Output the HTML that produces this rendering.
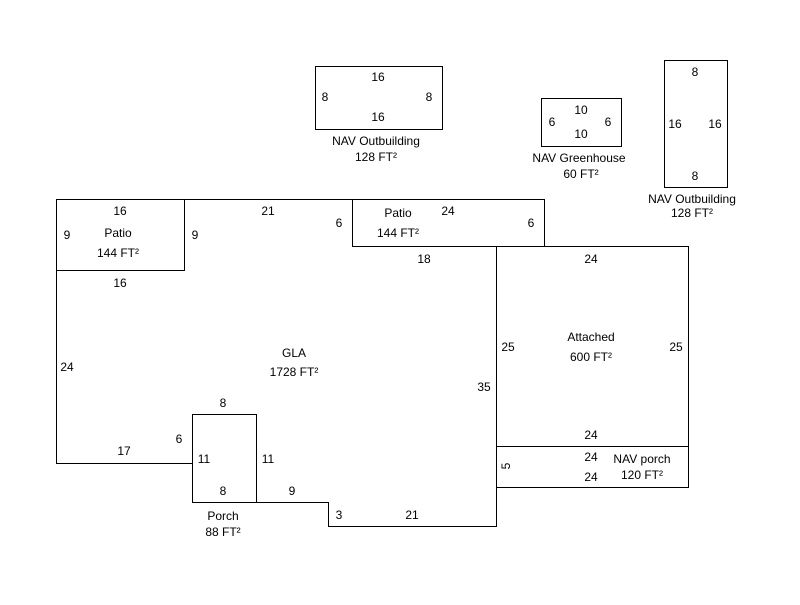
<!DOCTYPE html>
<html><head><meta charset="utf-8"><style>body{margin:0;background:#fff}svg text{font-family:"Liberation Sans",Arial,sans-serif;font-size:12px;fill:#000;text-anchor:middle;dominant-baseline:central}</style></head>
<body><svg width="800" height="600" xmlns="http://www.w3.org/2000/svg">
<g fill="none" stroke="#000" stroke-width="1">
<rect x="315.5" y="66.5" width="127" height="63"/>
<rect x="541.5" y="98.5" width="80" height="48"/>
<rect x="664.5" y="60.5" width="63" height="127"/>
<polygon points="56.5,199.5 352.5,199.5 352.5,246.5 496.5,246.5 496.5,526.5 328.5,526.5 328.5,502.5 192.5,502.5 192.5,463.5 56.5,463.5"/>
<rect x="56.5" y="199.5" width="128" height="71"/>
<rect x="352.5" y="199.5" width="192" height="47"/>
<rect x="192.5" y="414.5" width="64" height="88"/>
<rect x="496.5" y="246.5" width="192" height="200"/>
<rect x="496.5" y="446.5" width="192" height="41"/>
</g>
<text x="378" y="77">16</text><text x="325" y="97">8</text><text x="429" y="97">8</text><text x="378" y="117">16</text>
<text x="376" y="141">NAV Outbuilding</text><text x="376" y="157">128 FT²</text>
<text x="581" y="110">10</text><text x="552" y="122">6</text><text x="608" y="122">6</text><text x="581" y="134">10</text>
<text x="579" y="158">NAV Greenhouse</text><text x="581" y="174">60 FT²</text>
<text x="695" y="72">8</text><text x="675" y="124">16</text><text x="715" y="124">16</text><text x="695" y="176">8</text>
<text x="692" y="199">NAV Outbuilding</text><text x="692" y="213">128 FT²</text>
<text x="120" y="211">16</text><text x="67" y="235">9</text><text x="118" y="233">Patio</text><text x="118" y="253">144 FT²</text><text x="195" y="235">9</text><text x="120" y="283">16</text>
<text x="268" y="211">21</text><text x="339" y="223">6</text><text x="398" y="213">Patio</text><text x="398" y="233">144 FT²</text><text x="448" y="211">24</text><text x="531" y="223">6</text>
<text x="424" y="259">18</text><text x="591" y="259">24</text><text x="508" y="347">25</text><text x="591" y="337">Attached</text><text x="591" y="357">600 FT²</text><text x="676" y="347">25</text>
<text x="484" y="387">35</text><text x="294" y="353">GLA</text><text x="294" y="372">1728 FT²</text><text x="67" y="367">24</text>
<text x="223" y="403">8</text><text x="179" y="439">6</text><text x="124" y="451">17</text><text x="204" y="459">11</text><text x="268" y="459">11</text><text x="223" y="491">8</text><text x="292" y="491">9</text>
<text x="223" y="516">Porch</text><text x="223" y="532">88 FT²</text><text x="339" y="515">3</text><text x="412" y="515">21</text>
<text x="591" y="435">24</text><text x="591" y="457">24</text><text x="591" y="477">24</text><text x="642" y="459">NAV porch</text><text x="642" y="475">120 FT²</text>
<text x="506" y="466" transform="rotate(-90 506 466)">5</text>
</svg></body></html>
